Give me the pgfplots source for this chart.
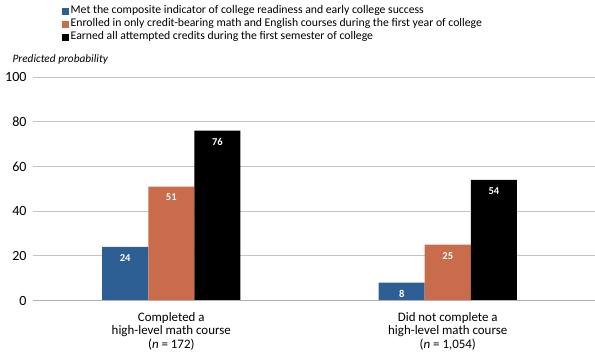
\documentclass[border=0pt]{standalone}
\usepackage{pgfplots}
\pgfplotsset{compat=1.18}
\usepackage{fontspec}
\setmainfont{Carlito}
\definecolor{cblue}{HTML}{2E5F94}
\definecolor{corange}{HTML}{C96C4C}
\definecolor{cblack}{HTML}{000000}
\definecolor{gridgray}{HTML}{C4C4C4}
\begin{document}
\begin{tikzpicture}
\useasboundingbox (-33pt,-57pt) rectangle (561pt,300pt);
\begin{axis}[
  at={(0pt,0pt)}, anchor=south west,
  scale only axis,
  width=561pt, height=223pt,
  xmin=-0.5, xmax=1.5326,
  ymin=0, ymax=100,
  ytick={0,20,...,100},
  xtick={0,1},
  xticklabels={{Completed a\\high-level math course\\(\textit{n} = 172)},{Did not complete a\\high-level math course\\(\textit{n} = 1,054)}},
  xticklabel style={align=center, font=\fontsize{12.9}{13.3}\selectfont, yshift=-8.5pt},
  yticklabel style={font=\fontsize{14}{14}\selectfont, xshift=-3pt},
  /pgf/number format/assume math mode=true,
  major tick length=0pt,
  axis line style={draw=none},
  ymajorgrids,
  grid style={gridgray, line width=1pt},
  ybar=0pt,
  bar width=46pt,
  clip=false,
  nodes near coords,
  every node near coord/.append style={anchor=north, yshift=-4pt, text=white, font=\fontsize{10.5}{12}\bfseries\selectfont},
  legend style={at={(0.0516,1.325)}, anchor=north west, draw=none, fill=none,
    font=\fontsize{11.7}{13}\selectfont, row sep=0pt, inner sep=0pt,
    nodes={inner sep=0pt, text height=9pt, text depth=4pt},
    /tikz/every even column/.append style={column sep=0pt}},
  legend cell align=left,
  legend image code/.code={\fill[#1] (0pt,-3.5pt) rectangle (6.5pt,3pt);},
]
\addplot[fill=cblue, draw=none] coordinates {(0,24) (1,8)};
\addplot[fill=corange, draw=none] coordinates {(0,51) (1,25)};
\addplot[fill=cblack, draw=none] coordinates {(0,76) (1,54)};
\legend{\,Met the composite indicator of college readiness and early college success,
\,Enrolled in only credit-bearing math and English courses during the first year of college,
\,Earned all attempted credits during the first semester of college}
\draw[gridgray!90!black, line width=1.6pt] (rel axis cs:0,0) -- (rel axis cs:1,0);
\node[anchor=west, font=\fontsize{11.3}{13}\itshape\selectfont] at (rel axis cs:0,1) [xshift=-24pt, yshift=18pt] {Predicted probability};
\end{axis}
\end{tikzpicture}
\end{document}
